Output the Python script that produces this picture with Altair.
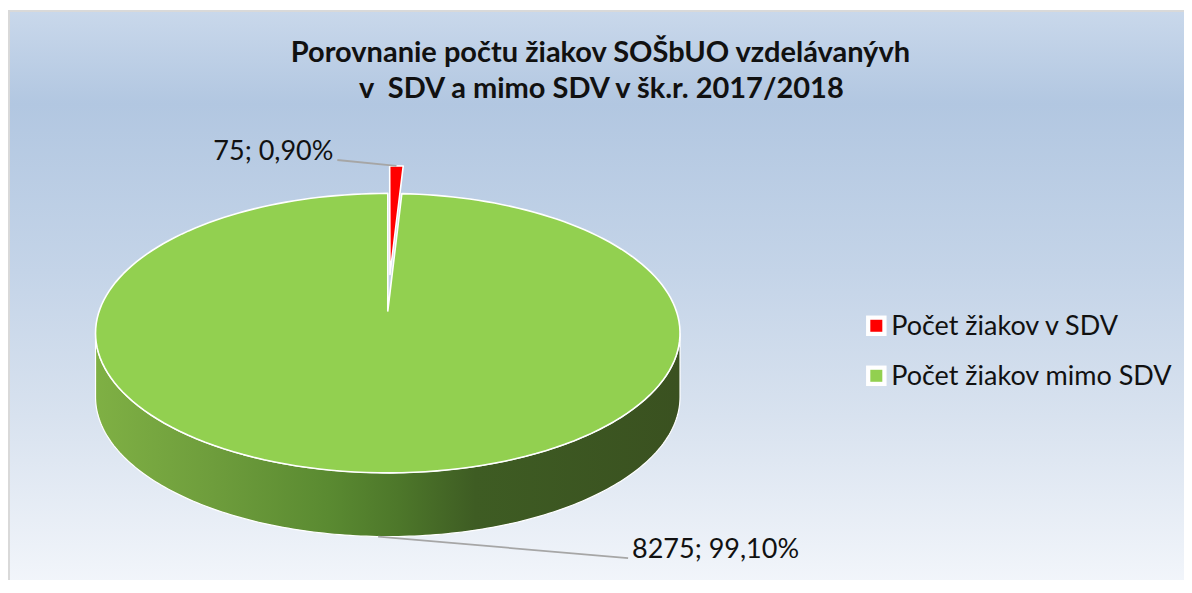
import math
import altair as alt
import pandas as pd

# ---------------- data ----------------
categories = ["Počet žiakov v SDV", "Počet žiakov mimo SDV"]
values = [75, 8275]
colors = ["#ff0000", "#92d050"]
title_lines = ["Porovnanie počtu žiakov SOŠbUO vzdelávanývh",
               "v \u00a0SDV a mimo SDV v šk.r. 2017/2018"]

total = sum(values)
labels = [f"{v}; {v / total * 100:.2f}%".replace(".", ",") for v in values]

# ---------------- layout (pixels, page coords minus 8px margin) ----------------
OX, OY = 8, 8
W, H = 1176, 572
CX, CY = 390 - OX, 317 - OY          # pie apex
A0, B0, K = 291.8, 138.9, 0.158      # perspective ellipse params
DEPTH = 65                            # side thickness
EXPLODE = 0.281                       # explode of first slice
N = 180
TV1 = math.pi / 2 + math.asin(K)
TV2 = 2 * math.pi - TV1
FONT = "Lato"

xs = alt.Scale(domain=[0, W], nice=False, zero=False)
ys = alt.Scale(domain=[0, H], nice=False, zero=False, reverse=True)
cs = alt.Scale(domain=categories, range=colors)

df = pd.DataFrame({"cat": categories, "value": values, "idx": list(range(len(values))),
                   "label": labels})


def with_slices(ch):
    return (ch.transform_joinaggregate(total="sum(value)")
            .transform_window(cum="sum(value)", sort=[alt.SortField("idx")], frame=[None, 0])
            .transform_calculate(f1="datum.cum / datum.total")
            .transform_calculate(f0="(datum.cum - datum.value) / datum.total")
            .transform_calculate(ex=f"datum.idx == 0 ? {EXPLODE} : 0")
            .transform_calculate(mid="PI * (datum.f0 + datum.f1)"))


def project(ch, depth_expr="0"):
    return (ch.transform_calculate(s=f"1 / (1 + {K} * datum.wv)")
            .transform_calculate(px=f"{CX} + {A0} * datum.wu * datum.s")
            .transform_calculate(py=f"{CY} - {B0} * datum.wv * datum.s + ({depth_expr}) * {DEPTH}"))


# background
bg_grad = alt.LinearGradient(
    gradient="linear", x1=0, x2=0, y1=0, y2=1,
    stops=[alt.GradientStop(offset=0, color="#c9d8eb"),
           alt.GradientStop(offset=0.16, color="#b2c7e1"),
           alt.GradientStop(offset=0.45, color="#c4d4e8"),
           alt.GradientStop(offset=0.7, color="#d8e2ef"),
           alt.GradientStop(offset=1, color="#f3f6fb")])
background = alt.Chart(pd.DataFrame({"a": [0]})).mark_rect(
    fill=bg_grad, stroke="#d9d9d9", strokeWidth=2
).encode(x=alt.value(-1), x2=alt.value(W + 10), y=alt.value(3), y2=alt.value(H + 10))

# side of pie (front visible part)
side_grad = alt.LinearGradient(
    gradient="linear", x1=0, x2=1, y1=0, y2=0,
    stops=[alt.GradientStop(offset=0, color="#7fb044"),
           alt.GradientStop(offset=0.2, color="#6e9d3c"),
           alt.GradientStop(offset=0.4, color="#5a8a31"),
           alt.GradientStop(offset=0.52, color="#4d772a"),
           alt.GradientStop(offset=0.65, color="#3e5c23"),
           alt.GradientStop(offset=1, color="#3a5120")])
side = (with_slices(alt.Chart(df))
        .transform_calculate(a0=f"max(2 * PI * datum.f0, {TV1})")
        .transform_calculate(a1=f"min(2 * PI * datum.f1, {TV2})")
        .transform_filter("datum.a1 > datum.a0")
        .transform_calculate(k=f"sequence(0, {2 * N + 2})")
        .transform_flatten(["k"])
        .transform_calculate(j=f"datum.k <= {N} ? datum.k : {2 * N + 1} - datum.k")
        .transform_calculate(th=f"datum.a0 + (datum.a1 - datum.a0) * datum.j / {N}")
        .transform_calculate(wu="sin(datum.th) + datum.ex * sin(datum.mid)")
        .transform_calculate(wv="cos(datum.th) + datum.ex * cos(datum.mid)"))
side = project(side, f"datum.k > {N} ? 1 : 0").mark_line(
    interpolate="linear-closed", fill=side_grad, stroke="white", strokeWidth=1.2
).encode(x=alt.X("px:Q", scale=xs, axis=None), y=alt.Y("py:Q", scale=ys, axis=None),
         order=alt.Order("k:Q"), detail="cat:N")

# top faces
top = (with_slices(alt.Chart(df))
       .transform_calculate(k=f"sequence(-1, {N + 1})")
       .transform_flatten(["k"])
       .transform_calculate(th=f"2 * PI * (datum.f0 + (datum.f1 - datum.f0) * max(datum.k, 0) / {N})")
       .transform_calculate(wu="(datum.k < 0 ? 0 : sin(datum.th)) + datum.ex * sin(datum.mid)")
       .transform_calculate(wv="(datum.k < 0 ? 0 : cos(datum.th)) + datum.ex * cos(datum.mid)"))
top = project(top).mark_line(
    interpolate="linear-closed", stroke="white", strokeWidth=1.6, strokeJoin="round"
).encode(x=alt.X("px:Q", scale=xs, axis=None), y=alt.Y("py:Q", scale=ys, axis=None),
         fill=alt.Fill("cat:N", scale=cs, legend=None),
         order=alt.Order("k:Q"), detail="cat:N")

# data labels + leaders
lab_df = df.copy()
lab_df["lx"] = [335 - OX, 637 - OX]
lab_df["ly"] = [163 - OY, 569 - OY]
lab_df["ex2"] = [339 - OX, 633 - OX]
lab_df["align"] = ["right", "left"]

leader = (with_slices(alt.Chart(lab_df))
          .transform_calculate(wu="(1 + datum.ex) * sin(datum.mid)")
          .transform_calculate(wv="(1 + datum.ex) * cos(datum.mid)"))
leader = project(leader, f"(datum.mid > {TV1} && datum.mid < {TV2}) ? 1 : 0").mark_rule(
    color="#a6a6a6", strokeWidth=1.8
).encode(x=alt.X("px:Q", scale=xs, axis=None), y=alt.Y("py:Q", scale=ys, axis=None),
         x2="ex2:Q", y2="ly:Q")

LABEL_SIZE = 27
lab_r = alt.Chart(lab_df).transform_filter("datum.align == 'right'").mark_text(
    align="right", baseline="alphabetic", font=FONT, fontSize=LABEL_SIZE, color="#111111"
).encode(x=alt.X("lx:Q", scale=xs, axis=None), y=alt.Y("ly:Q", scale=ys, axis=None), text="label:N")
lab_l = alt.Chart(lab_df).transform_filter("datum.align == 'left'").mark_text(
    align="left", baseline="alphabetic", font=FONT, fontSize=LABEL_SIZE, color="#111111"
).encode(x=alt.X("lx:Q", scale=xs, axis=None), y=alt.Y("ly:Q", scale=ys, axis=None), text="label:N")

# legend
leg_df = pd.DataFrame({"cat": categories, "idx": list(range(len(categories)))})
leg_base = alt.Chart(leg_df).transform_calculate(
    sx=f"{884 - OX}", tx=f"{899 - OX}",
    sy=f"{332 - OY} + datum.idx * 51", ty=f"{341 - OY} + datum.idx * 51")
leg_box = leg_base.mark_square(size=420, color="white", opacity=1, cornerRadius=3).encode(
    x=alt.X("sx:Q", scale=xs, axis=None), y=alt.Y("sy:Q", scale=ys, axis=None))
leg_sq = leg_base.mark_square(size=144, opacity=1).encode(
    x=alt.X("sx:Q", scale=xs, axis=None), y=alt.Y("sy:Q", scale=ys, axis=None),
    color=alt.Color("cat:N", scale=cs, legend=None))
leg_txt = leg_base.mark_text(align="left", baseline="alphabetic", font=FONT, fontSize=27,
                             color="#111111").encode(
    x=alt.X("tx:Q", scale=xs, axis=None), y=alt.Y("ty:Q", scale=ys, axis=None), text="cat:N")

# title
tdf = pd.DataFrame({"t": title_lines, "tx": [605 - OX, 606 - OX], "ty": [63 - OY, 100 - OY]})
title = alt.Chart(tdf).mark_text(align="center", baseline="alphabetic", font=FONT, fontSize=29,
                                 fontWeight="bold", color="#111111").encode(
    x=alt.X("tx:Q", scale=xs, axis=None), y=alt.Y("ty:Q", scale=ys, axis=None), text="t:N")

chart = alt.layer(background, side, top, leader, lab_r, lab_l, leg_box, leg_sq, leg_txt, title).properties(
    width=W, height=H, padding=0,
    autosize=alt.AutoSizeParams(type="fit", contains="padding")
).configure_view(strokeWidth=0)

chart.save("out.html", embed_options={"renderer": "svg", "actions": False})
